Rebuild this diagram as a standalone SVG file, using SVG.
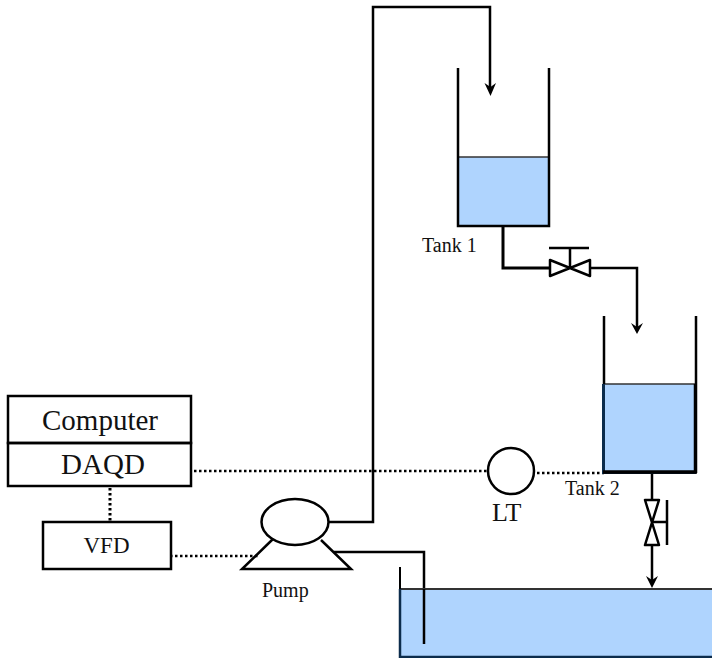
<svg xmlns="http://www.w3.org/2000/svg" width="712" height="658" viewBox="0 0 712 658">
<style>
.l{fill:none;stroke:#000;stroke-width:2.5}
.d{fill:none;stroke:#000;stroke-width:2.5;stroke-dasharray:2.5 2.5}
.w{fill:#afd4fe;stroke:none}
.t{font-family:"Liberation Serif",serif;fill:#111}
.h{fill:#000;stroke:none}
</style>
<rect width="712" height="658" fill="#fff"/>
<g id="connectors">
<path class="l" d="M328 522H373V7H490V90"/>
<path class="h" d="M484.500 83L490.500 87L496 83L490.500 96Z"/>
<path class="l" style="stroke-width:3" d="M503 225V268H549"/>
<path class="l" d="M590 268H637V328"/>
<path class="h" d="M631 323L637 327L643 323L637 334Z"/>
<path class="l" d="M652 474V499"/>
<path class="l" d="M652 545V584"/>
<path class="h" d="M646 576L652 580L658 576L652 588Z"/>
<path class="l" d="M334 552H424V644"/>
<path class="d" d="M194 471H487"/>
<path class="d" d="M537 473H604"/>
<path class="d" style="stroke-width:3" d="M110 488V522"/>
<path class="d" d="M170 556H258"/>
</g>
<g id="tank1">
<rect class="w" x="459" y="157" width="90" height="68"/>
<path d="M459 157H549" fill="none" stroke="#333" stroke-width="1.500"/>
<path class="l" d="M458 68V226H549V68"/>
<text class="t" x="422" y="252" font-size="20">Tank 1</text>
</g>
<g id="valve1">
<path class="l" stroke-linejoin="round" d="M550 260V276L590 260V276Z"/>
<path class="l" d="M570 268V248M549 248H589"/>
</g>
<g id="tank2">
<rect class="w" x="604" y="384" width="91" height="88"/>
<path d="M604 384H695" fill="none" stroke="#333" stroke-width="1.500"/>
<path class="l" d="M604 316V384M696 316V384"/>
<path d="M603.500 384V472.500H696" fill="none" stroke="#0c2c4c" stroke-width="3"/>
<path d="M695.500 384V473M603 472H697" fill="none" stroke="#000" stroke-width="3.500"/>
<text class="t" x="565" y="495" font-size="20">Tank 2</text>
</g>
<g id="valve2">
<path class="l" stroke-linejoin="round" d="M645 500H659L645 545H659Z"/>
<path class="l" d="M652 522H667M667 500V545"/>
</g>
<g id="lt">
<circle class="l" cx="511" cy="471" r="23"/>
<text class="t" x="492" y="521" font-size="26">LT</text>
</g>
<g id="computer">
<rect class="l" x="8" y="396" width="183" height="47"/>
<rect class="l" x="8" y="443" width="183" height="43"/>
<text class="t" x="100" y="430" font-size="29" text-anchor="middle">Computer</text>
<text class="t" x="103" y="474" font-size="29" text-anchor="middle">DAQD</text>
</g>
<g id="vfd">
<rect class="l" x="43" y="522" width="128" height="47"/>
<text class="t" x="106.500" y="553" font-size="23" text-anchor="middle">VFD</text>
</g>
<g id="pump">
<path class="l" d="M273 539L242 569H351L321 540"/>
<ellipse cx="295" cy="522" rx="33.500" ry="23" fill="#fff" stroke="#000" stroke-width="2.500"/>
<text class="t" x="262" y="597" font-size="20">Pump</text>
</g>
<g id="reservoir">
<rect class="w" x="400" y="589" width="312" height="67"/>
<path d="M400 589H712" fill="none" stroke="#333" stroke-width="2"/>
<path d="M400 567V589" fill="none" stroke="#000" stroke-width="2"/>
<path d="M400 589V657H712" fill="none" stroke="#0c2c4c" stroke-width="2.500"/>
<path d="M424 589V644" fill="none" stroke="#000" stroke-width="2.500"/>
</g>
</svg>
